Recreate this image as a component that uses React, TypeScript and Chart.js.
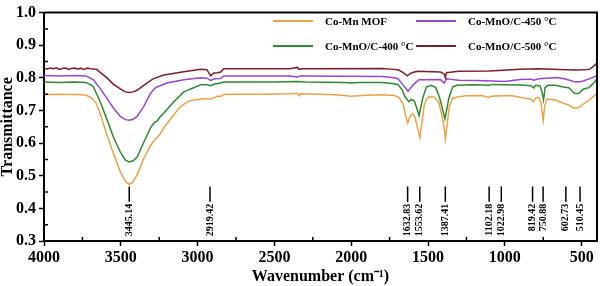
import React, { useEffect, useRef } from 'react';
import { Chart, registerables } from 'chart.js';
Chart.register(...registerables);

const FONT = '"Liberation Serif", "Times New Roman", serif';

// Co-Mn MOF
const mofWn = [4000, 3950, 3900, 3850, 3800, 3750, 3720, 3690, 3660, 3634, 3590, 3547, 3503, 3470, 3445, 3420, 3394, 3351, 3307, 3280, 3264, 3240, 3220, 3155, 3111, 3090, 3050, 2980, 2940, 2920, 2900, 2870, 2850, 2830, 2750, 2600, 2400, 2350, 2340, 2330, 2200, 2100, 2000, 1900, 1800, 1720, 1690, 1660, 1645, 1632, 1615, 1600, 1585, 1568, 1553, 1540, 1525, 1510, 1495, 1460, 1430, 1412, 1395, 1387, 1375, 1360, 1340, 1300, 1250, 1150, 1105, 1090, 1020, 960, 880, 830, 815, 800, 780, 765, 750, 740, 725, 671, 620, 584, 550, 520, 500, 453, 400];
const mofT = [0.750, 0.749, 0.750, 0.749, 0.749, 0.748, 0.746, 0.738, 0.722, 0.690, 0.625, 0.567, 0.512, 0.483, 0.473, 0.481, 0.503, 0.552, 0.592, 0.610, 0.617, 0.630, 0.647, 0.687, 0.712, 0.719, 0.730, 0.735, 0.737, 0.734, 0.738, 0.744, 0.743, 0.749, 0.750, 0.750, 0.751, 0.753, 0.745, 0.751, 0.750, 0.748, 0.744, 0.747, 0.748, 0.746, 0.740, 0.718, 0.682, 0.662, 0.684, 0.690, 0.680, 0.645, 0.617, 0.662, 0.715, 0.735, 0.742, 0.741, 0.725, 0.690, 0.645, 0.612, 0.660, 0.715, 0.737, 0.742, 0.745, 0.746, 0.740, 0.744, 0.745, 0.746, 0.738, 0.735, 0.727, 0.738, 0.740, 0.725, 0.670, 0.715, 0.735, 0.732, 0.722, 0.717, 0.707, 0.709, 0.716, 0.732, 0.752];

// Co-MnO/C-400 °C
const c400Wn = [4000, 3900, 3800, 3730, 3700, 3678, 3634, 3590, 3547, 3503, 3470, 3445, 3420, 3394, 3351, 3307, 3280, 3264, 3245, 3220, 3155, 3090, 2980, 2940, 2915, 2890, 2850, 2830, 2500, 2350, 2300, 2050, 2000, 1950, 1800, 1720, 1695, 1670, 1650, 1625, 1610, 1590, 1575, 1558, 1545, 1532, 1510, 1480, 1450, 1425, 1412, 1390, 1375, 1365, 1340, 1314, 1200, 1100, 1085, 1000, 900, 830, 812, 800, 770, 760, 748, 738, 720, 671, 620, 584, 545, 519, 490, 453, 420, 400];
const c400T = [0.787, 0.786, 0.787, 0.786, 0.780, 0.772, 0.727, 0.672, 0.617, 0.572, 0.548, 0.542, 0.546, 0.557, 0.602, 0.647, 0.664, 0.667, 0.680, 0.692, 0.727, 0.757, 0.779, 0.779, 0.776, 0.781, 0.784, 0.787, 0.787, 0.789, 0.787, 0.786, 0.784, 0.786, 0.786, 0.782, 0.779, 0.765, 0.742, 0.727, 0.734, 0.730, 0.710, 0.684, 0.715, 0.742, 0.772, 0.777, 0.770, 0.740, 0.717, 0.674, 0.710, 0.737, 0.772, 0.777, 0.779, 0.777, 0.780, 0.779, 0.778, 0.776, 0.769, 0.777, 0.775, 0.760, 0.732, 0.770, 0.777, 0.777, 0.772, 0.770, 0.752, 0.752, 0.765, 0.770, 0.785, 0.797];

// Co-MnO/C-450 °C
const c450Wn = [4000, 3900, 3800, 3730, 3700, 3678, 3634, 3590, 3547, 3503, 3470, 3445, 3420, 3394, 3351, 3307, 3280, 3264, 3200, 3090, 2980, 2940, 2915, 2890, 2850, 2830, 2400, 2350, 2330, 1800, 1720, 1695, 1660, 1630, 1600, 1560, 1420, 1395, 1380, 1300, 1180, 1085, 1000, 900, 830, 812, 780, 660, 600, 540, 500, 450, 400];
const c450T = [0.807, 0.806, 0.807, 0.806, 0.800, 0.794, 0.767, 0.737, 0.707, 0.682, 0.672, 0.670, 0.673, 0.682, 0.712, 0.752, 0.767, 0.772, 0.784, 0.794, 0.800, 0.799, 0.792, 0.797, 0.798, 0.806, 0.806, 0.803, 0.806, 0.804, 0.800, 0.797, 0.777, 0.759, 0.777, 0.794, 0.795, 0.784, 0.797, 0.793, 0.792, 0.790, 0.789, 0.795, 0.796, 0.793, 0.797, 0.801, 0.796, 0.787, 0.789, 0.797, 0.807];

// Co-MnO/C-500 °C
const c500Wn = [4000, 3980, 3960, 3940, 3920, 3900, 3880, 3860, 3840, 3820, 3800, 3780, 3760, 3740, 3720, 3700, 3680, 3655, 3634, 3590, 3547, 3503, 3470, 3445, 3420, 3394, 3351, 3290, 3220, 3090, 2980, 2940, 2915, 2895, 2870, 2850, 2830, 2400, 2350, 2340, 2320, 1800, 1720, 1690, 1660, 1635, 1610, 1570, 1420, 1395, 1387, 1380, 1300, 1100, 900, 780, 600, 520, 450, 420, 400];
const c500T = [0.829, 0.827, 0.830, 0.828, 0.831, 0.826, 0.829, 0.830, 0.826, 0.829, 0.830, 0.827, 0.829, 0.826, 0.830, 0.828, 0.827, 0.826, 0.817, 0.800, 0.780, 0.766, 0.757, 0.755, 0.757, 0.762, 0.777, 0.797, 0.809, 0.819, 0.826, 0.825, 0.806, 0.815, 0.816, 0.818, 0.828, 0.828, 0.832, 0.826, 0.828, 0.829, 0.826, 0.824, 0.815, 0.806, 0.815, 0.820, 0.818, 0.812, 0.800, 0.816, 0.820, 0.821, 0.826, 0.828, 0.825, 0.824, 0.826, 0.836, 0.846];

const seriesNames = ['Co-Mn MOF', 'Co-MnO/C-400 °C', 'Co-MnO/C-450 °C', 'Co-MnO/C-500 °C'];
const seriesColors = ['#E9A244', '#2F8A2F', '#9546D3', '#7E1E2A'];

const xTicks = [4000, 3500, 3000, 2500, 2000, 1500, 1000, 500];
const xMinor = [3750, 3250, 2750, 2250, 1750, 1250, 750];
const yTicks = [0.3, 0.4, 0.5, 0.6, 0.7, 0.8, 0.9, 1.0];
const yMinor = [0.35, 0.45, 0.55, 0.65, 0.75, 0.85, 0.95];

const peakWn = [3445.14, 2919.42, 1632.83, 1553.62, 1387.41, 1102.18, 1022.98, 819.42, 750.88, 602.73, 510.45];
const peakLabels = ['3445.14', '2919.42', '1632.83', '1553.62', '1387.41', '1102.18', '1022.98', '819.42', '750.88', '602.73', '510.45'];
const peakLineTop = 0.467;
const peakLineBottom = 0.42;

const toPoints = (xs: number[], ys: number[]) => xs.map((x, i) => ({ x, y: ys[i] }));

const framePlugin = {
  id: 'frame',
  afterDatasetsDraw(chart: any) {
    const { ctx, chartArea: a, scales } = chart;
    const xs = scales.x;
    const ys = scales.y;
    ctx.save();
    ctx.strokeStyle = '#000';
    ctx.lineWidth = 2;
    ctx.beginPath();
    ctx.moveTo(a.left, a.top);
    ctx.lineTo(a.right, a.top);
    ctx.lineTo(a.right, a.bottom);
    ctx.stroke();
    ctx.lineWidth = 1.5;
    ctx.beginPath();
    yMinor.forEach((v) => {
      const y = ys.getPixelForValue(v);
      ctx.moveTo(a.left, y);
      ctx.lineTo(a.left + 4, y);
    });
    xMinor.forEach((v) => {
      const x = xs.getPixelForValue(v);
      ctx.moveTo(x, a.bottom);
      ctx.lineTo(x, a.bottom - 4);
    });
    ctx.stroke();
    ctx.lineWidth = 1.5;
    ctx.fillStyle = '#000';
    ctx.font = 'bold 10px ' + FONT;
    peakWn.forEach((wn, i) => {
      const x = xs.getPixelForValue(wn);
      const y0 = ys.getPixelForValue(peakLineTop);
      const y1 = ys.getPixelForValue(peakLineBottom);
      ctx.beginPath();
      ctx.moveTo(x, y0);
      ctx.lineTo(x, y1);
      ctx.stroke();
      ctx.save();
      ctx.translate(x, y1 + 2);
      ctx.rotate(-Math.PI / 2);
      ctx.textAlign = 'right';
      ctx.textBaseline = 'middle';
      ctx.fillText(peakLabels[i], 0, 0);
      ctx.restore();
    });
    const legendOrder = [0, 2, 1, 3];
    ctx.font = 'bold 11px ' + FONT;
    ctx.textAlign = 'left';
    ctx.textBaseline = 'middle';
    legendOrder.forEach((si, k) => {
      const col = k % 2;
      const row = Math.floor(k / 2);
      const lx = 273 + col * 143;
      const ly = 21 + row * 25;
      ctx.strokeStyle = seriesColors[si];
      ctx.lineWidth = 2;
      ctx.beginPath();
      ctx.moveTo(lx, ly);
      ctx.lineTo(lx + 40, ly);
      ctx.stroke();
      ctx.fillStyle = '#000';
      ctx.fillText(seriesNames[si], lx + 52, ly + 1);
    });
    ctx.restore();
  },
};

export default function App() {
  const ref = useRef<HTMLCanvasElement | null>(null);
  useEffect(() => {
    document.body.style.margin = '0';
    if (!ref.current) return;
    const all = [
      toPoints(mofWn, mofT),
      toPoints(c400Wn, c400T),
      toPoints(c450Wn, c450T),
      toPoints(c500Wn, c500T),
    ];
    const chart = new Chart(ref.current, {
      type: 'line',
      data: {
        datasets: all.map((d, i) => ({
          label: seriesNames[i],
          data: d,
          borderColor: seriesColors[i],
          backgroundColor: seriesColors[i],
          borderWidth: 1.5,
          pointRadius: 0,
          tension: 0,
          fill: false,
        })),
      },
      options: {
        animation: false,
        responsive: false,
        devicePixelRatio: 1,
        layout: { padding: { top: 7, right: 3, left: 0, bottom: 0 } },
        plugins: { legend: { display: false }, tooltip: { enabled: false } },
        scales: {
          x: {
            type: 'linear',
            reverse: true,
            min: 400,
            max: 4000,
            afterBuildTicks: (s: any) => { s.ticks = xTicks.map((v) => ({ value: v })); },
            afterFit: (s: any) => { s.height = 45; },
            ticks: {
              color: '#000',
              font: { family: FONT, size: 16, weight: 'bold' },
              padding: 2,
              maxRotation: 0,
              autoSkip: false,
              callback: (v: any) => String(v),
            },
            grid: { drawOnChartArea: false, drawTicks: true, tickLength: 5, tickColor: '#000', tickWidth: 1.5 },
            border: { display: true, color: '#000', width: 2 },
            title: {
              display: true,
              text: 'Wavenumber (cm⁻¹)',
              color: '#000',
              font: { family: FONT, size: 16, weight: 'bold', lineHeight: 1.1 },
              padding: { top: 0, bottom: 0 },
            },
          },
          y: {
            type: 'linear',
            min: 0.3,
            max: 1.0,
            afterBuildTicks: (s: any) => { s.ticks = yTicks.map((v) => ({ value: v })); },
            afterFit: (s: any) => { s.width = 44; },
            ticks: {
              color: '#000',
              font: { family: FONT, size: 16, weight: 'bold' },
              padding: 3,
              autoSkip: false,
              callback: (v: any) => Number(v).toFixed(1),
            },
            grid: { drawOnChartArea: false, drawTicks: true, tickLength: 5, tickColor: '#000', tickWidth: 1.5 },
            border: { display: true, color: '#000', width: 2 },
            title: {
              display: true,
              text: 'Transmittance',
              color: '#000',
              font: { family: FONT, size: 16, weight: 'bold', lineHeight: 1 },
              padding: { top: 0, bottom: 0 },
            },
          },
        },
      },
      plugins: [framePlugin],
    });
    return () => chart.destroy();
  }, []);
  return (
    <div style={{ width: 600, height: 286 }}>
      <canvas ref={ref} width={600} height={286} style={{ display: 'block' }} />
    </div>
  );
}
